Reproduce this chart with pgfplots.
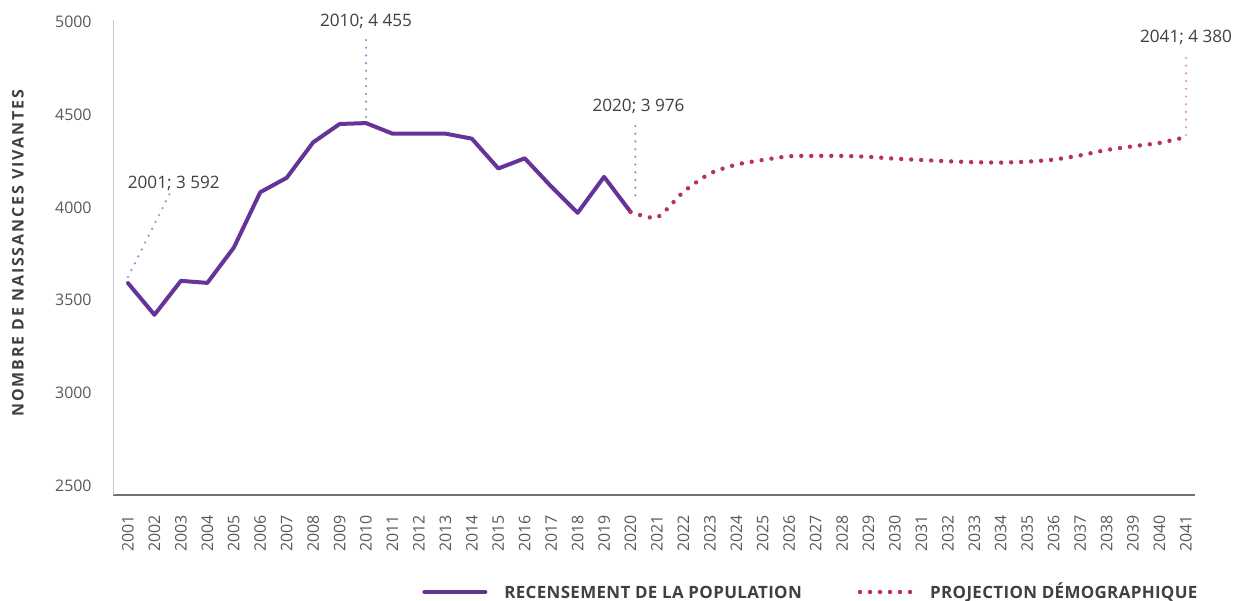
\documentclass[border=0pt]{standalone}
\usepackage{fontspec}
\setmainfont{Open Sans}
\usepackage{pgfplots}
\pgfplotsset{compat=1.18}

\definecolor{recens}{HTML}{663399}
\definecolor{projec}{HTML}{B8325F}
\definecolor{annopurple}{HTML}{9A85C8}
\definecolor{annopink}{HTML}{DE98AA}
\definecolor{ticktext}{HTML}{595959}
\definecolor{labeltext}{HTML}{404040}

\pgfplotsset{
  recleg/.style={legend image code/.code={\draw[##1] (0bp,0bp) -- (30.5bp,0bp);}},
  proleg/.style={legend image code/.code={\draw[##1] (0bp,0bp) -- (25.5bp,0bp);}},
}

\begin{document}
\begin{tikzpicture}
\begin{axis}[
  scale only axis, width=541bp, height=237.5bp,
  xmin=2000.433, xmax=2041.34,
  ymin=2449, ymax=5011,
  axis x line*=bottom, axis y line*=left,
  x axis line style={draw=black!55, line width=0.7bp, -},
  y axis line style={draw=black!22, line width=0.5bp, -},
  xtick={2001,...,2041},
  ytick={2500,3000,...,5000},
  major tick length=0pt,
  /pgf/number format/1000 sep={},
  /pgf/number format/assume math mode=true,
  xticklabel style={rotate=90, anchor=east, inner sep=0pt,
    font=\fontsize{8}{9}\selectfont, text=ticktext},
  yticklabel style={anchor=east, inner sep=0pt,
    font=\fontsize{8}{9}\selectfont, text=ticktext},
  xticklabel shift=10bp,
  yticklabel shift=10.5bp,
  clip=false,
  legend columns=2,
  legend cell align=left,
  legend style={draw=none, fill=none, inner sep=0pt,
    at={(rel axis cs:0,0)}, anchor=west, xshift=154.5bp, yshift=-48.5bp,
    font=\bfseries\fontsize{8.5}{10}\selectfont\addfontfeature{LetterSpace=2},
    text=labeltext,
    nodes={text height=6.5bp, text depth=0.5bp},
    /tikz/every odd column/.append style={column sep=6.5bp},
    /tikz/every even column/.append style={column sep=26bp}},
]
% recensement 2001-2020
\addplot[recens, line width=2bp, line join=round, line cap=round, recleg]
  coordinates {
  (2001,3592) (2002,3421) (2003,3604) (2004,3593) (2005,3783)
  (2006,4082) (2007,4160) (2008,4351) (2009,4450) (2010,4455)
  (2011,4398) (2012,4398) (2013,4398) (2014,4371) (2015,4210)
  (2016,4265) (2017,4113) (2018,3971) (2019,4165) (2020,3976)
  };
\addlegendentry{RECENSEMENT DE LA POPULATION}
% projection 2020-2041
\addplot[projec, line width=2.2bp, line cap=round, smooth, tension=0.4,
  dash pattern=on 0bp off 5bp, proleg]
  coordinates {
  (2020,3976) (2021,3946) (2022,4084) (2023,4183) (2024,4231)
  (2025,4256) (2026,4276) (2027,4278) (2028,4278) (2029,4273)
  (2030,4263) (2031,4256) (2032,4249) (2033,4244) (2034,4242)
  (2035,4247) (2036,4258) (2037,4281) (2038,4310) (2039,4330)
  (2040,4348) (2041,4380)
  };
\addlegendentry{PROJECTION DÉMOGRAPHIQUE}

% callouts
\begin{scope}[line width=1.2bp, line cap=round, dash pattern=on 0bp off 3.85bp]
  \draw[annopurple] (axis cs:2001,3625) -- (axis cs:2002.59,4078);
  \draw[annopurple] (axis cs:2010,4903) -- (axis cs:2010,4482);
  \draw[annopurple] (axis cs:2020.18,4439) -- (axis cs:2020.18,4024);
  \draw[annopink] (axis cs:2041,4806) -- (axis cs:2041,4385);
\end{scope}
\begin{scope}[every node/.style={inner sep=0pt, text=labeltext,
    font=\fontsize{8.6}{10}\selectfont}]
  \node[anchor=west] at (axis cs:2000.98,4132) {2001; 3 592};
  \node at (axis cs:2010,5002) {2010; 4 455};
  \node at (axis cs:2020.3,4547) {2020; 3 976};
  \node at (axis cs:2041,4917) {2041; 4 380};
\end{scope}
\end{axis}
\node[rotate=90, text=labeltext, inner sep=0pt,
  font=\bfseries\fontsize{8}{9}\selectfont\addfontfeature{LetterSpace=12}]
  at ([xshift=-47.5bp, yshift=2bp]current axis.west)
  {NOMBRE DE NAISSANCES VIVANTES};
\pgfresetboundingbox
\path ([shift={(-56.5bp,-53bp)}]current axis.south west)
  rectangle ([shift={(563bp,247.5bp)}]current axis.south west);
\end{tikzpicture}
\end{document}
